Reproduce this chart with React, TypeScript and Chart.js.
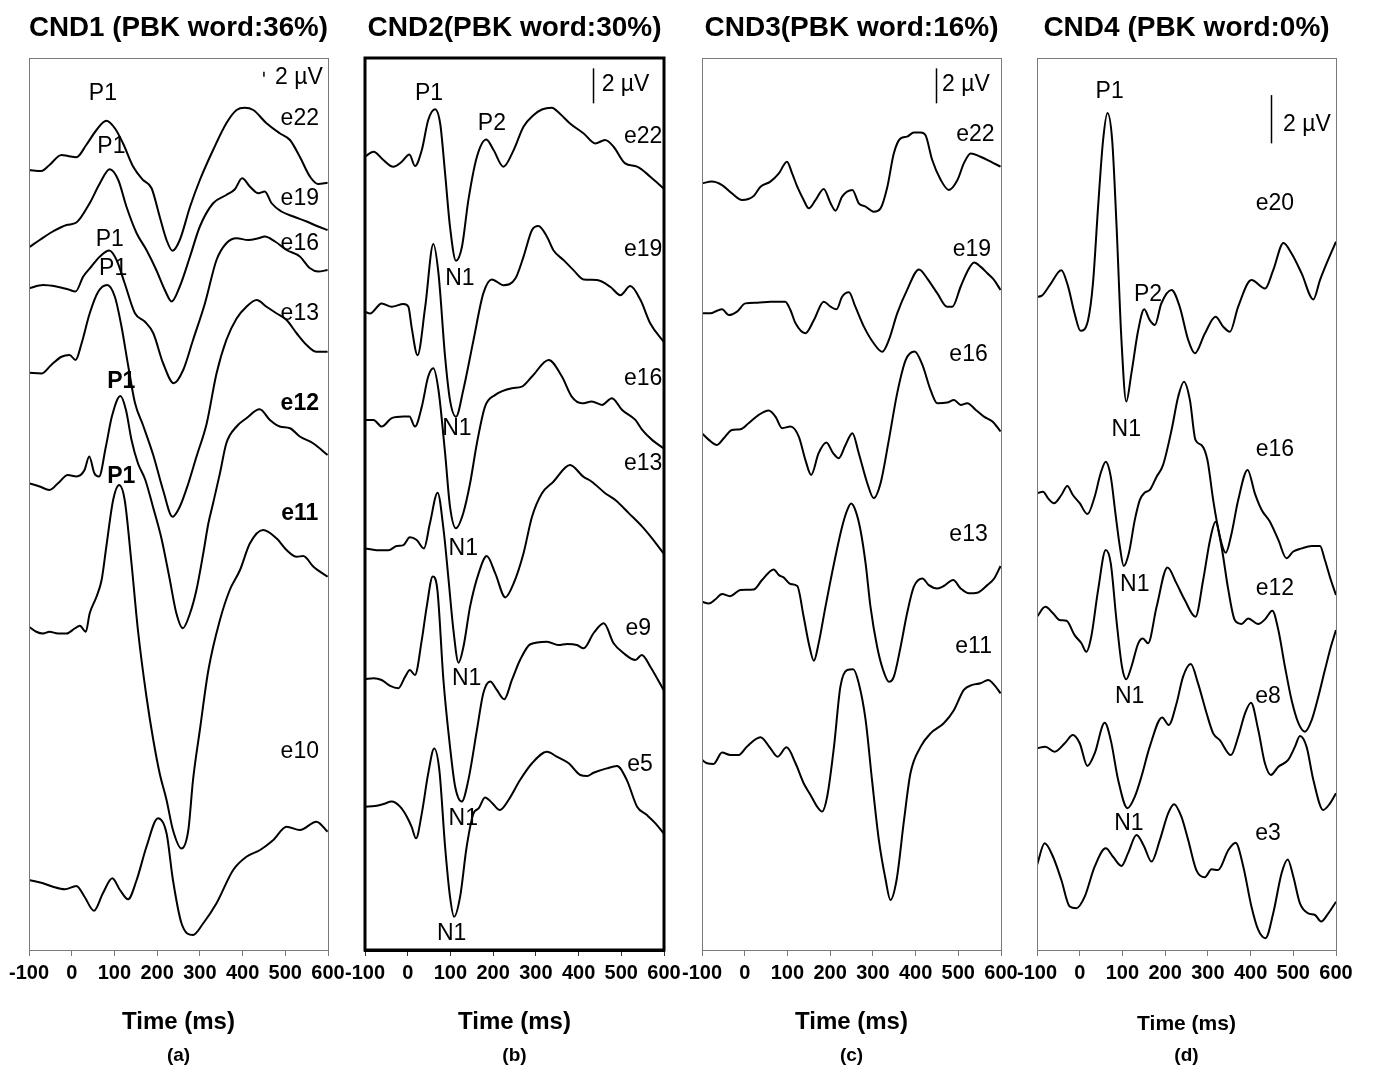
import React, { useEffect, useRef } from 'react';
import { Chart, registerables } from 'chart.js';

Chart.register(...registerables);

type Pt = [number, number]; // [time ms, amplitude µV relative to the trace baseline]

// ---------- Panel (a) CND1 ----------
const A_E22: Pt[] = [[-100,0],[-71,-0.4],[-52,2],[-24,6],[-9,5.6],[11,5.1],[34,10],[58,16],[81,19.7],[101,16.7],[120,10.7],[144,1.3],[167,-4],[187,-7.3],[206,-18.7],[222,-28],[236,-32.3],[253,-28],[277,-14.7],[300,-4],[331,8],[362,18.7],[386,24],[405,24.9],[425,24],[456,18.7],[487,14.7],[511,12],[534,5.3],[558,-2.7],[577,-5.6],[599,-5.1]];
const A_E19: Pt[] = [[-100,0],[-75,2.9],[-44,6.3],[-12,8.9],[11,9.9],[42,17.6],[66,25.6],[89,31.2],[109,26.9],[128,16.3],[152,5.6],[175,-1.1],[198,-9.1],[218,-17.1],[234,-21.7],[253,-15.7],[277,-3.7],[300,8.3],[331,17.6],[362,20.9],[382,23.2],[399,27.6],[417,24.3],[437,21.6],[452,22.3],[468,17.6],[491,14.3],[519,12.3],[550,10.3],[577,8.3],[599,6.9]];
const A_E16: Pt[] = [[-100,0],[-67,1.3],[-36,0.7],[-9,-0.4],[9,-1.3],[27,4.7],[46,8.7],[66,12.7],[88,15.1],[105,11.3],[124,2],[148,-10],[171,-13.3],[191,-18],[214,-30],[239,-38],[261,-32.7],[284,-20.7],[312,-6],[339,11.3],[362,18],[386,20],[413,19.3],[437,20],[452,20.7],[476,18.7],[503,15.3],[534,12.7],[558,8],[577,6.7],[599,7.3]];
const A_E13: Pt[] = [[-100,0],[-71,-0.3],[-48,3.1],[-24,6.4],[-5,7.1],[9,5.1],[23,11.7],[42,23.7],[62,32.4],[83,35.1],[101,30.4],[116,19],[132,3],[148,-12],[167,-21],[191,-33],[214,-47],[236,-57.6],[253,-53.6],[273,-44.3],[292,-33.6],[316,-20.3],[339,-0.3],[362,13.1],[386,21.7],[409,26.4],[433,29.1],[456,26.4],[480,23.7],[503,21.1],[527,15.7],[550,11.1],[573,8.4],[599,8.4]];
const A_E12: Pt[] = [[-100,0],[-75,-1.3],[-52,-2.7],[-32,0],[-9,3.3],[11,2.7],[30,5.3],[41,10.7],[53,4],[64,2.7],[80,14.7],[94,26.7],[114,34.9],[127,29.3],[140,17.3],[155,8],[172,1.5],[190,-9.3],[210,-22],[229,-38],[245,-52],[260,-58],[277,-52],[292,-42.7],[308,-28],[320,-16],[331,-8],[347,4],[362,16],[386,22.7],[409,26],[440,29.6],[464,25.3],[487,22.7],[511,22],[534,18.7],[565,16],[599,11.3]];
const A_E11: Pt[] = [[-100,0],[-83,-2],[-67,-2.7],[-52,-2],[-32,-2.7],[-12,-2.7],[7,-0.7],[19,0.4],[33,-2],[42,5.3],[58,12],[70,18.7],[81,32],[97,50.7],[111,56.7],[124,50.7],[140,25.3],[155,-1.3],[175,-28],[191,-45.3],[206,-58.7],[222,-69.3],[237,-81.3],[257,-88.7],[273,-81.3],[284,-61.3],[300,-41.3],[320,-17.3],[347,2.7],[370,14.7],[394,22.7],[417,33.3],[448,38.7],[480,35.3],[503,30.7],[527,28],[542,28.3],[566,24],[599,20]];
const A_E10: Pt[] = [[-100,0],[-67,-1.3],[-44,-2.7],[-16,-3.7],[11,-2.4],[30,-6.7],[52,-12.3],[73,-5.3],[95,0.7],[113,-4],[132,-7.7],[152,0],[175,13.3],[202,24.7],[222,18.7],[237,0],[257,-17.3],[284,-22],[308,-17.3],[339,-9.3],[378,4],[409,9.3],[441,12],[472,16],[503,21.3],[534,20],[573,23.3],[599,19.3]];

// ---------- Panel (b) CND2 ----------
const B_E22: Pt[] = [[-100,0],[-80,0.29],[-57,-0.19],[-34,-0.57],[-14,-0.29],[4,0.13],[17,-0.53],[33,0.38],[48,2.1],[64,2.72],[76,1.9],[87.5,-0.95],[99,-4],[113,-5.94],[127,-5.14],[142,-2.48],[162,0],[184,0.99],[201,0.38],[224,-0.57],[248,0.38],[271,1.71],[295,2.38],[314,2.7],[337,2.8],[357,2.44],[380,1.9],[412,1.33],[439,0.76],[462,0.95],[482,0.57],[509,-0.38],[537,-0.57],[568,-1.14],[599,-1.81]];
const B_E19: Pt[] = [[-100,0],[-88,-0.1],[-61,0.48],[-37.5,0.29],[-10,0.44],[1.6,0.29],[9,-0.86],[23,-2.48],[41,0.29],[60,3.87],[72,2.19],[87.5,-2.57],[99,-5.05],[113,-6],[130,-4.48],[154,-1.62],[177,1.05],[197,1.85],[224,1.52],[252,1.9],[271,3.14],[291,4.67],[306,4.9],[326,4.29],[341,3.52],[365,2.95],[388,2.38],[412,1.85],[443,1.81],[474,1.43],[498,0.95],[521,1.47],[545,0.67],[568,-0.67],[599,-1.71]];
const B_E16: Pt[] = [[-100,0],[-80,0],[-61,-0.38],[-37.5,0.1],[-10,0.19],[4,0.19],[17,-0.38],[33,0.76],[48,2.48],[60,2.95],[72,1.71],[87.5,-1.9],[99,-4.95],[113,-6.19],[130,-5.33],[146,-3.62],[162,-1.33],[181,0.76],[205,1.43],[244,1.81],[267,1.9],[291,2.48],[330,3.43],[361,2.48],[384,1.33],[408,0.95],[431,1.05],[455,0.86],[478,1.24],[502,0.57],[533,0],[549,-0.57],[572,-1.14],[599,-1.62]];
const B_E13: Pt[] = [[-100,0],[-73,-0.1],[-45,-0.1],[-26,0.13],[-10,0.19],[5,0.63],[21,0.48],[38,0],[52,1.43],[70,3.18],[84,1.05],[95.7,-1.81],[107,-4.67],[119,-6.53],[130.5,-5.62],[146,-3.33],[166,-1.43],[185,-0.44],[205,-1.43],[228.5,-2.8],[248,-2],[271,-0.29],[291,1.81],[314,3.14],[341,3.81],[380,4.76],[411,4.1],[431,3.81],[463,3.14],[486,2.76],[518,2],[549,1.24],[572,0.57],[599,-0.29]];
const B_E9: Pt[] = [[-100,0],[-80,0.06],[-61,-0.04],[-41,-0.38],[-22,-0.51],[-6,0.15],[5,0.53],[17,0.25],[33,2.25],[44.5,4.15],[58.6,5.87],[69.5,5.1],[83.6,-0.04],[99,-3.85],[111,-6.13],[126.6,-6.99],[142,-5.75],[162,-2.9],[177,-0.8],[193,-0.13],[208.6,-0.61],[226,-1.14],[244,-0.04],[263,1.1],[287,2],[326,2.15],[353,1.96],[373,2.02],[396,1.96],[412,1.77],[435,2.63],[459,3.2],[482,2.06],[505.5,1.49],[533,1.1],[548,1.39],[568,0.72],[599,-0.61]];
const B_E5: Pt[] = [[-100,0],[-77,0.04],[-57,0.15],[-37.5,0.29],[-18,0],[-2,-0.57],[9,-1.14],[19.5,-1.81],[33,-0.38],[48,1.9],[62,3.33],[74,2.1],[87.5,-2.29],[99,-5.14],[108.6,-6.29],[122.7,-5.14],[138,-2.29],[154,-0.38],[166,-0.1],[181,0.53],[197,0.23],[216,-0.19],[236,0.38],[263,1.52],[291,2.48],[326,3.14],[349,2.86],[377,2.48],[404,1.81],[420,1.75],[435,1.94],[466,2.19],[490,2.32],[513,1.52],[537,0],[560,-0.48],[580,-0.95],[599,-1.52]];

// ---------- Panel (c) CND3 ----------
const C_E22: Pt[] = [[-100,0],[-77,0.1],[-53,-0.1],[-30,-0.57],[-6,-0.95],[21,-0.72],[37,-0.19],[60,0.1],[80,0.57],[99,1.24],[111,0.57],[123,-0.19],[138,-0.95],[150,-1.43],[166,-0.95],[185,-0.32],[201,-1.14],[212.5,-1.56],[228,-0.76],[252,-0.38],[267,-1.14],[283,-1.33],[302,-1.62],[318,-1.43],[334,-0.19],[349,1.71],[365,2.57],[380,2.67],[396,2.9],[412,2.9],[423,2.76],[439,1.33],[459,0.19],[478,-0.38],[498,0.19],[513,1.14],[529,1.71],[552,1.52],[576,1.24],[599,0.95]];
const C_E19: Pt[] = [[-100,0],[-80,0],[-65,0.15],[-53,0.23],[-37.5,-0.1],[-18,0.1],[1.6,0.57],[29,0.61],[60,0.67],[95,0.67],[107,0.19],[119,-0.57],[142,-1.14],[162,-0.38],[185,0.67],[201,0.38],[215,0.23],[228,0.95],[244,1.2],[259,0.38],[279,-0.76],[302,-1.71],[322,-2.19],[337.5,-1.52],[357,0],[380,1.33],[408,2.51],[427,2],[451,1.14],[474,0.38],[486,0.38],[505.5,1.52],[521,2.38],[537,2.9],[552,2.67],[568,2.29],[584,1.9],[599,1.33]];
const C_E16: Pt[] = [[-100,0],[-84,-0.38],[-65,-0.67],[-49,-0.29],[-30,0.19],[-10,0.23],[9,0.57],[33,1.05],[56,1.3],[72,0.95],[87.5,0.29],[107,0.38],[126.6,-0.19],[142,-1.52],[155.5,-2.38],[173,-1.14],[191,-0.53],[207,-1.14],[220,-1.43],[236,-0.67],[252,0],[267,-1.14],[287,-2.86],[302,-3.71],[318,-2.86],[337.5,-0.38],[357,2.29],[377,4.19],[398,4.67],[416,3.9],[435,2.48],[451,1.71],[474,1.75],[490,1.9],[505.5,1.62],[521,1.71],[541,1.33],[560,0.95],[580,0.67],[599,0.1]];
const C_E13: Pt[] = [[-100,0],[-84,-0.1],[-69,0.13],[-53,0.44],[-34,0.32],[-10,0.67],[21,0.7],[40.6,1.24],[68,1.85],[80,1.52],[91,1.39],[107,1.01],[123,0.9],[138,-0.86],[150,-2.38],[162,-3.37],[173,-2.38],[189,-0.29],[209,2.19],[228,4.29],[240,5.24],[249,5.62],[259,5.24],[271,4.1],[283,2.19],[294.5,-0.29],[310,-2.57],[324,-3.9],[337.5,-4.57],[349,-4.29],[365,-2.57],[380,-0.67],[396,0.86],[416,1.33],[431,0.95],[451,0.76],[466,0.9],[488,1.24],[505.5,0.76],[525,0.48],[544.5,0.51],[568,0.95],[584,1.33],[599,2.04]];
const C_E11: Pt[] = [[-100,0],[-88,-0.19],[-73,-0.23],[-53,0.42],[-34,0.29],[-14,0.29],[5,0.76],[37,1.3],[60,0.67],[77,0.19],[98,0.72],[119,-0.19],[138,-1.33],[154,-2],[169.5,-2.67],[181,-2.95],[193,-2.1],[209,0.76],[224,4.19],[240,5.14],[254,5.18],[267,4.38],[283,2.29],[298,-1.14],[314,-4.57],[330,-6.86],[341,-8],[355.5,-6.86],[373,-3.43],[388,-0.76],[412,0.76],[435,1.52],[466,2.1],[490,2.86],[513,4],[533,4.29],[552,4.38],[570,4.57],[584,4.29],[599,3.81]];

// ---------- Panel (d) CND4 ----------
const D_E20: Pt[] = [[-100,0],[-90,0.03],[-70,0.48],[-43,1.1],[-27,0.41],[-12,-0.69],[2,-1.41],[19.5,-0.97],[31,0.55],[43,3.72],[54.7,6.48],[65,7.61],[76,6.48],[86,3.03],[97.7,-1.79],[109,-4.34],[121,-3.17],[137,-1.38],[151,-0.52],[164,-0.97],[176,-1.17],[191,-0.28],[215,0.28],[234,-0.41],[254,-1.79],[269.5,-2.34],[293,-1.52],[318,-0.83],[336,-1.24],[351.6,-1.45],[371,-0.41],[402,0.69],[434,0.34],[453,1.1],[477,2.23],[496,1.79],[519.5,0.97],[547,-0.11],[562.5,0.69],[578,1.38],[600,2.28]];
const D_E16: Pt[] = [[-100,0],[-86,0.07],[-74,-0.21],[-60,-0.41],[-43,-0.07],[-29,0.3],[-16,-0.07],[0,-0.41],[18,-0.86],[35,-0.14],[49,0.83],[61,1.31],[72.7,0.69],[83.6,-0.83],[94,-2.21],[103,-3.01],[115,-2.48],[129,-1.1],[140.6,-0.28],[152,0.03],[164,0.14],[180,0.69],[195,1.17],[215,2.62],[230.5,4],[244,4.62],[258,3.86],[271,2.21],[285,2],[299,1.38],[312.5,-0.28],[328,-1.79],[342,-2.46],[355.5,-1.66],[371,-0.28],[393,0.97],[410,0],[426,-0.69],[445,-1.17],[465,-1.93],[484,-2.69],[500,-2.41],[519.5,-2.28],[543,-2.18],[562.5,-2.18],[574,-2.76],[588,-3.59],[600,-4.21]];
const D_E12: Pt[] = [[-100,0],[-80.5,0.41],[-62.5,0.14],[-47,-0.14],[-31,-0.17],[-12,-0.76],[4,-1.1],[15.6,-1.45],[27,-0.83],[43,1.1],[61,2.76],[72.7,2.21],[86,-0.14],[99,-2.07],[109,-2.59],[121,-2.07],[137,-1.1],[148,-0.9],[160,-1.1],[180,0.41],[205.5,2.04],[226.6,1.38],[246,0.69],[271,0],[289,1.52],[305,3.17],[318,3.93],[332,2.9],[348,1.1],[363,-0.14],[379,-0.3],[394.5,-0.07],[418,-0.3],[433.6,-0.11],[451,0.25],[465,-0.55],[480.5,-2.07],[496,-3.45],[512,-4.41],[527,-4.76],[543,-4.28],[558.6,-3.31],[574,-2.21],[588,-1.24],[600,-0.55]];
const D_E8: Pt[] = [[-100,0],[-80.5,0.07],[-58.6,-0.14],[-35,0.21],[-16,0.55],[0,0.21],[18,-0.73],[35,-0.21],[58.6,1.06],[72.7,0.34],[90,-1.31],[112,-2.48],[129,-2],[144.5,-1.17],[164,0.07],[193,1.28],[208.6,0.97],[226.6,1.86],[242,2.97],[260,3.49],[277,2.69],[297,1.45],[312.5,0.62],[328,0.34],[354,-0.28],[371,0.48],[387,1.45],[401,1.89],[418,0.76],[433.6,-0.62],[447.6,-1.1],[465,-0.76],[488,-0.48],[504,0.07],[515.6,0.51],[531,0.07],[547,-1.31],[570,-2.55],[586,-2.28],[600,-1.86]];
const D_E3: Pt[] = [[-100,0],[-82,0.9],[-62.5,0.34],[-43,-0.62],[-23.4,-1.72],[-8,-1.79],[11.7,-1.31],[35,-0.07],[61,0.69],[78,0.34],[97.7,-0.04],[113,0.48],[133,1.24],[151,0.76],[168,0.14],[187.5,1.03],[207,2.14],[221,2.52],[238,2],[254,1.03],[273,-0.21],[293,-0.51],[308.6,-0.18],[324,-0.21],[348,0.62],[365,0.92],[383,-0.07],[402,-1.72],[418,-2.69],[435,-3.03],[453,-2],[472.6,-0.34],[487,0.23],[500,-0.48],[515.6,-1.59],[535,-2],[551,-2.07],[565,-2.34],[582,-2],[600,-1.52]];

// Vertical stacking offsets of each trace (µV on the panel's axis)
const A_OFFSETS = [312, 281.1, 264.7, 230.9, 186.7, 129.3, 28];
const B_OFFSETS = [45.33, 36.47, 30.29, 22.95, 15.47, 8.19];
const C_OFFSETS = [43.81, 36.38, 29.53, 19.9, 10.86];
const D_OFFSETS = [27.05, 18.91, 13.8, 8.35, 3.52];

// Time axis range and tick step
const TIME_MIN = -100;
const TIME_MAX = 600;
const TIME_STEP = 100;

const FONT = '"Liberation Sans", Arial, Helvetica, sans-serif';

interface Label { t: number; v: number; text: string; bold?: boolean; left?: boolean }
interface Panel {
  title: string;
  sub: string;
  left: number;
  pxPerUV: number;
  traces: Pt[][];
  offsets: number[];
  bar: [number, number];
  labels: Label[];
  thick: boolean;
  timeFont: number;
}

const PANELS: Panel[] = [
  {
    title: 'CND1 (PBK word:36%)', sub: '(a)', left: 29, pxPerUV: 2.5,
    traces: [A_E22, A_E19, A_E16, A_E13, A_E12, A_E11, A_E10], offsets: A_OFFSETS,
    bar: [450, 349.3], thick: false, timeFont: 24,
    labels: [
      { t: 476, v: 348.8, text: '2 µV', left: true },
      { t: 73, v: 342.7, text: 'P1' }, { t: 534, v: 332.7, text: 'e22' },
      { t: 93, v: 321.3, text: 'P1' }, { t: 534, v: 300.7, text: 'e19' },
      { t: 89, v: 284, text: 'P1' }, { t: 534, v: 282.7, text: 'e16' },
      { t: 97, v: 272.7, text: 'P1' }, { t: 534, v: 254.7, text: 'e13' },
      { t: 116, v: 227.3, text: 'P1', bold: true }, { t: 534, v: 218.7, text: 'e12', bold: true },
      { t: 116, v: 189.3, text: 'P1', bold: true }, { t: 534, v: 174.7, text: 'e11', bold: true },
      { t: 534, v: 79.3, text: 'e10' },
    ],
  },
  {
    title: 'CND2(PBK word:30%)', sub: '(b)', left: 365, pxPerUV: 17.5,
    traces: [B_E22, B_E19, B_E16, B_E13, B_E9, B_E5], offsets: B_OFFSETS,
    bar: [435, 48.38], thick: true, timeFont: 24,
    labels: [
      { t: 454, v: 49.43, text: '2 µV', left: true },
      { t: 50, v: 48.95, text: 'P1' }, { t: 197, v: 47.24, text: 'P2' },
      { t: 551, v: 46.47, text: 'e22' }, { t: 551, v: 40, text: 'e19' },
      { t: 122, v: 38.38, text: 'N1' }, { t: 551, v: 32.67, text: 'e16' },
      { t: 115, v: 29.81, text: 'N1' }, { t: 551, v: 27.81, text: 'e13' },
      { t: 130, v: 22.95, text: 'N1' }, { t: 540, v: 18.38, text: 'e9' },
      { t: 138, v: 15.53, text: 'N1' }, { t: 544, v: 10.57, text: 'e5' },
      { t: 130, v: 7.53, text: 'N1' }, { t: 103, v: 0.95, text: 'N1' },
    ],
  },
  {
    title: 'CND3(PBK word:16%)', sub: '(c)', left: 702, pxPerUV: 17.5,
    traces: [C_E22, C_E19, C_E16, C_E13, C_E11], offsets: C_OFFSETS,
    bar: [449, 48.38], thick: false, timeFont: 24,
    labels: [
      { t: 462, v: 49.43, text: '2 µV', left: true },
      { t: 540, v: 46.57, text: 'e22' }, { t: 532, v: 40, text: 'e19' },
      { t: 524, v: 34, text: 'e16' }, { t: 524, v: 23.71, text: 'e13' },
      { t: 536, v: 17.33, text: 'e11' },
    ],
  },
  {
    title: 'CND4 (PBK word:0%)', sub: '(d)', left: 1037, pxPerUV: 24.15,
    traces: [D_E20, D_E16, D_E12, D_E8, D_E3], offsets: D_OFFSETS,
    bar: [449, 33.4], thick: false, timeFont: 21,
    labels: [
      { t: 70, v: 35.54, text: 'P1' }, { t: 476, v: 34.16, text: '2 µV', left: true },
      { t: 457, v: 30.92, text: 'e20' }, { t: 160, v: 27.12, text: 'P2' },
      { t: 109, v: 21.53, text: 'N1' }, { t: 457, v: 20.7, text: 'e16' },
      { t: 129, v: 15.11, text: 'N1' }, { t: 457, v: 14.98, text: 'e12' },
      { t: 117, v: 10.49, text: 'N1' }, { t: 441, v: 10.49, text: 'e8' },
      { t: 115, v: 5.25, text: 'N1' }, { t: 441, v: 4.83, text: 'e3' },
    ],
  },
];

const AREA_W = 299;
const PAD = 40;
const CANVAS_W = AREA_W + 2 * PAD;
const CANVAS_H = 1073;
const AREA_TOP = 58;
const AREA_BOTTOM = 950;

function makeChart(canvas: HTMLCanvasElement, p: Panel): Chart {
  const ymax = (AREA_BOTTOM - AREA_TOP) / p.pxPerUV;
  const datasets: any[] = p.traces.map((tr, i) => ({
    data: tr.map(([t, v]) => ({ x: t, y: v + p.offsets[i] })),
    borderColor: '#000',
    borderWidth: 2,
    pointRadius: 0,
    fill: false,
    cubicInterpolationMode: 'monotone',
  }));
  datasets.push({
    data: [{ x: p.bar[0], y: p.bar[1] }, { x: p.bar[0], y: p.bar[1] + 2 }],
    borderColor: '#000',
    borderWidth: 1.5,
    pointRadius: 0,
    tension: 0,
    fill: false,
  });

  const frame = {
    id: 'frame',
    afterDatasetsDraw(chart: any) {
      const { ctx, chartArea: a } = chart;
      ctx.save();
      ctx.strokeStyle = p.thick ? '#000' : '#7a7a7a';
      ctx.lineWidth = p.thick ? 3 : 1;
      const o = p.thick ? 0 : 0.5;
      ctx.strokeRect(a.left + o, a.top + o, a.right - a.left, a.bottom - a.top);
      ctx.restore();
    },
  };
  const labels = {
    id: 'peakLabels',
    afterDatasetsDraw(chart: any) {
      const { ctx } = chart;
      const xs = chart.scales.x;
      const ys = chart.scales.y;
      ctx.save();
      ctx.fillStyle = '#000';
      ctx.textBaseline = 'middle';
      for (const l of p.labels) {
        ctx.font = `${l.bold ? 'bold ' : ''}23px ${FONT}`;
        ctx.textAlign = l.left ? 'left' : 'center';
        ctx.fillText(l.text, xs.getPixelForValue(l.t), ys.getPixelForValue(l.v));
      }
      ctx.restore();
    },
  };

  return new Chart(canvas, {
    type: 'line',
    data: { datasets },
    plugins: [frame, labels],
    options: {
      animation: false,
      responsive: false,
      devicePixelRatio: 1,
      events: [],
      layout: { padding: { left: PAD, right: PAD, top: 0, bottom: 0 } },
      plugins: {
        legend: { display: false },
        tooltip: { enabled: false },
        title: {
          display: true,
          text: p.title,
          color: '#000',
          font: { family: FONT, size: 28, weight: 'bold', lineHeight: 1.2 },
          padding: { top: 11.2, bottom: 13.2 },
        },
        subtitle: {
          display: true,
          position: 'bottom',
          text: p.sub,
          color: '#000',
          font: { family: FONT, size: 19, weight: 'bold', lineHeight: 1.2 },
          padding: { top: 0, bottom: 5.8 },
        },
      },
      scales: {
        x: {
          type: 'linear',
          min: TIME_MIN,
          max: TIME_MAX,
          afterFit: (s: any) => { s.height = 94.4; },
          ticks: {
            stepSize: TIME_STEP,
            color: '#000',
            padding: 5,
            maxRotation: 0,
            autoSkip: false,
            font: { family: FONT, size: 20, weight: 'bold', lineHeight: 1.2 },
          },
          grid: {
            drawOnChartArea: false,
            drawTicks: true,
            tickLength: 6,
            color: p.thick ? '#333' : '#7a7a7a',
            lineWidth: 1,
          },
          border: { display: true, color: p.thick ? '#000' : '#7a7a7a', width: p.thick ? 3 : 1 },
          title: {
            display: true,
            text: 'Time (ms)',
            color: '#000',
            font: { family: FONT, size: p.timeFont, weight: 'bold', lineHeight: 1.2 },
            padding: { top: 0, bottom: 8 },
          },
        },
        y: { type: 'linear', display: false, min: 0, max: ymax },
      },
    } as any,
  });
}

export default function App() {
  const refs = useRef<(HTMLCanvasElement | null)[]>([]);
  useEffect(() => {
    const charts = PANELS.map((p, i) => makeChart(refs.current[i] as HTMLCanvasElement, p));
    return () => charts.forEach((c) => c.destroy());
  }, []);
  return (
    <div style={{ position: 'absolute', left: 0, top: 0, width: 1373, height: 1073, background: '#fff' }}>
      {PANELS.map((p, i) => (
        <canvas
          key={p.sub}
          ref={(el) => { refs.current[i] = el; }}
          width={CANVAS_W}
          height={CANVAS_H}
          style={{ position: 'absolute', left: p.left - PAD, top: 0, width: CANVAS_W, height: CANVAS_H }}
        />
      ))}
    </div>
  );
}
